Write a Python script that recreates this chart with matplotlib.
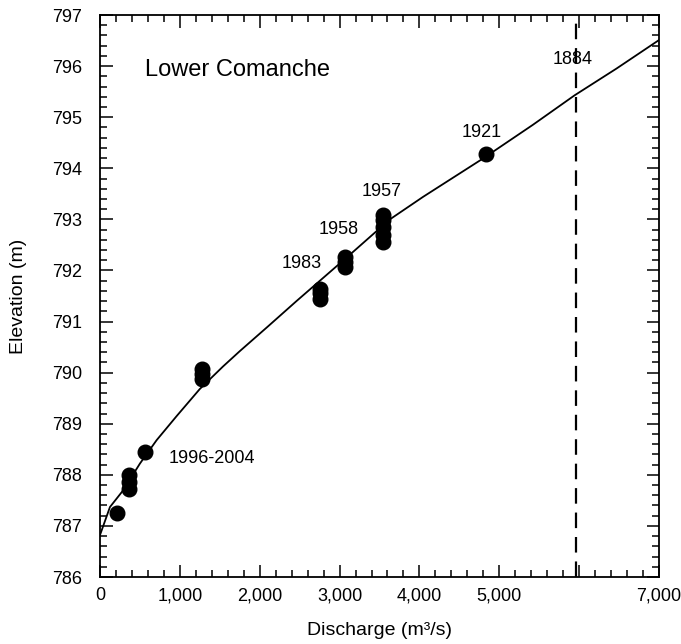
import numpy as np
import matplotlib
matplotlib.use('Agg')
import matplotlib.pyplot as plt
from matplotlib.ticker import MultipleLocator, FuncFormatter

plt.rcParams['font.family'] = ['Liberation Sans', 'DejaVu Sans']

# rating curve
curve_q = [0, 125, 292, 500, 710, 960, 1250, 1540, 1750, 2100, 2460, 3130, 3630,
           4045, 4795, 5420, 5945, 6466, 7000]
curve_e = [786.82, 787.37, 787.70, 788.22, 788.68, 789.15, 789.68, 790.12, 790.42,
           790.90, 791.40, 792.31, 793.00, 793.44, 794.19, 794.85, 795.43, 795.95, 796.51]

# surveyed high-water marks
obs_q = [217, 367, 367, 367, 563, 1272, 1272, 1272,
         2753, 2753, 2753, 3066, 3066, 3066,
         3545, 3545, 3545, 3545, 3545, 4831]
obs_e = [787.25, 787.73, 787.86, 787.99, 788.44, 789.88, 789.98, 790.07,
         791.45, 791.55, 791.64, 792.07, 792.17, 792.27,
         792.55, 792.70, 792.85, 792.98, 793.08, 794.27]

flood_1884_q = 5960

year_labels = ['1996-2004', '1983', '1958', '1957', '1921', '1884']
year_q = [1398, 2528, 2991, 3529, 4781, 5920]
year_e = [788.32, 792.14, 792.80, 793.54, 794.71, 796.12]

fig = plt.figure(figsize=(6.81, 6.44), dpi=100)
ax = fig.add_axes([0.1468, 0.104, 0.8209, 0.8727])

ax.plot(curve_q, curve_e, color='black', lw=1.3)
ax.plot(obs_q, obs_e, 'o', color='black', ms=10.5, mec='black')
ax.axvline(flood_1884_q, color='black', lw=1.6, ls=(0, (7, 4)))

for lab, q, e in zip(year_labels, year_q, year_e):
    ax.text(q, e, lab, fontsize=13, ha='center', va='center')

ax.text(563, 795.92, 'Lower Comanche', fontsize=17, ha='left', va='center')

ax.set_xlim(0, 7000)
ax.set_ylim(786, 797)
ax.xaxis.set_major_locator(MultipleLocator(1000))
ax.xaxis.set_minor_locator(MultipleLocator(200))
ax.yaxis.set_major_locator(MultipleLocator(1))
ax.yaxis.set_minor_locator(MultipleLocator(0.2))

def fmt_x(v, pos):
    if abs(v - 6000) < 1:
        return ''
    return '{:,.0f}'.format(v)

ax.xaxis.set_major_formatter(FuncFormatter(fmt_x))
ax.yaxis.set_major_formatter(FuncFormatter(lambda v, p: '{:.0f}'.format(v)))

ax.tick_params(which='both', direction='in', top=True, right=True, labelsize=13, width=1.1)
ax.tick_params(which='major', length=9)
ax.tick_params(which='minor', length=5)
ax.tick_params(axis='x', which='major', pad=7.5)
ax.tick_params(axis='y', which='major', pad=13)
for s in ax.spines.values():
    s.set_linewidth(1.3)

ax.set_xlabel('Discharge (m³/s)', fontsize=14, labelpad=13)
ax.set_ylabel('Elevation (m)', fontsize=14, labelpad=18)

fig.savefig('out.png', dpi=100)
